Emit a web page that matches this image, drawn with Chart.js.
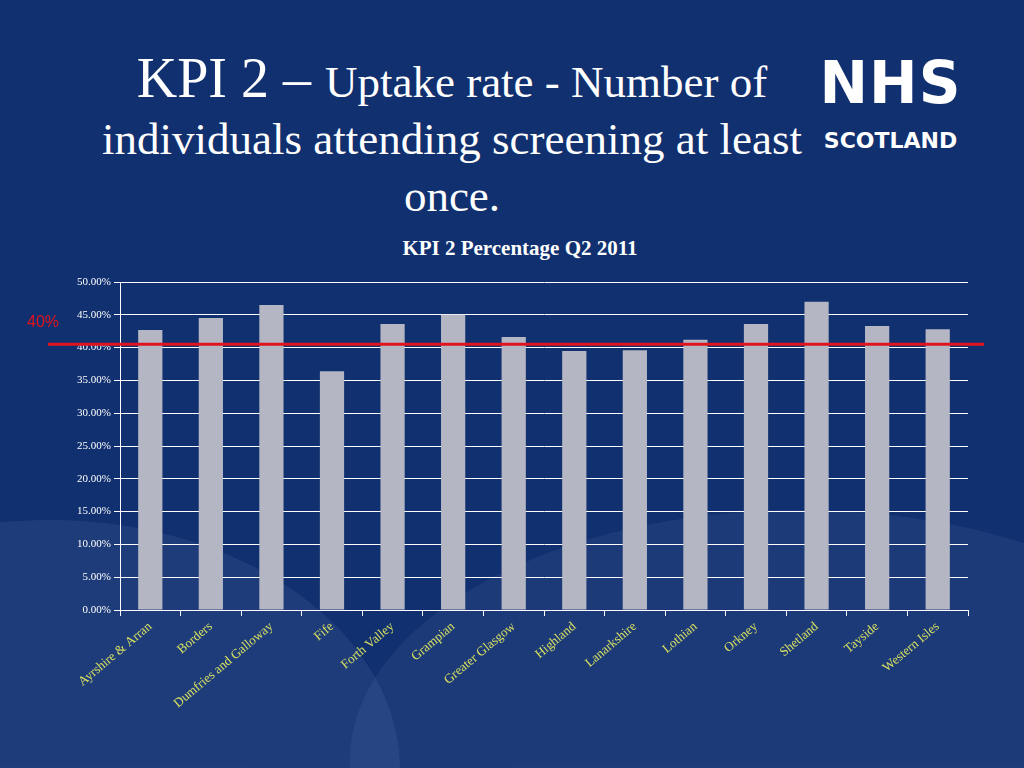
<!DOCTYPE html>
<html><head><meta charset="utf-8">
<script src="https://cdn.jsdelivr.net/npm/chart.js@4"></script>
<style>
body{margin:0;width:1024px;height:768px;overflow:hidden;position:relative;background:#11306f;font-family:"Liberation Serif",serif}
.wave{position:absolute;border-radius:50%;background:rgba(120,150,200,0.13)}
#t1{position:absolute;left:0;top:50px;width:904px;text-align:center;color:#fff;font-size:45px;line-height:57px}
#t1 .big{font-size:56px}
#ct{position:absolute;left:0;width:1040px;top:236px;text-align:center;color:#fff;font-weight:bold;font-size:21px}
#nhs{position:absolute;left:808px;top:52px;color:#fff;font-family:"DejaVu Sans",sans-serif;text-align:center;width:165px}
#nhs .a{font-size:58px;font-weight:bold;letter-spacing:1px;line-height:62px}
#nhs .b{font-size:22px;font-weight:bold;margin-top:14px}
canvas{position:absolute;left:0;top:270px}
</style></head><body>
<div class="wave" style="left:-300px;top:520px;width:700px;height:500px"></div>
<div class="wave" style="left:350px;top:510px;width:900px;height:500px;background:rgba(120,150,200,0.11)"></div>
<div id="t1"><span class="big">KPI 2 – </span>Uptake rate - Number of<br>individuals attending screening at least<br>once.</div>
<div id="nhs"><div class="a">NHS</div><div class="b">SCOTLAND</div></div>
<div id="ct">KPI 2 Percentage Q2 2011</div>
<canvas id="c" width="1024" height="498"></canvas>
<script>
var boards = ['Ayrshire & Arran','Borders','Dumfries and Galloway','Fife','Forth Valley','Grampian','Greater Glasgow','Highland','Lanarkshire','Lothian','Orkney','Shetland','Tayside','Western Isles'];
var uptake = [42.7,44.5,46.5,36.4,43.6,45.0,41.6,39.5,39.6,41.2,43.6,47.0,43.3,42.8];
var target = 40.5;

var targetLine = {
  id: 'targetLine',
  afterDatasetsDraw: function(chart) {
    var c = chart.ctx, y = chart.scales.y.getPixelForValue(target);
    c.save();
    c.strokeStyle = '#e0141e'; c.lineWidth = 3;
    c.beginPath(); c.moveTo(48, y); c.lineTo(984, y); c.stroke();
    c.fillStyle = '#e0141e'; c.font = '16px "Liberation Sans"';
    c.textBaseline = 'middle';
    c.fillText('40%', 27, y - 22);
    c.restore();
  }
};

new Chart(document.getElementById('c'), {
  type: 'bar',
  data: {
    labels: boards,
    datasets: [{ data: uptake, backgroundColor: '#b4b6c4', categoryPercentage: 0.8, barPercentage: 0.5 }]
  },
  options: {
    responsive: false, animation: false,
    layout: { padding: { top: 12, right: 56, left: 0, bottom: 0 } },
    plugins: { legend: { display: false }, tooltip: { enabled: false } },
    scales: {
      x: {
        afterFit: function(s) { s.height = 158; },
        grid: { display: true, drawOnChartArea: false, color: '#ffffff', tickLength: 6, offset: true },
        border: { color: '#ffffff' },
        ticks: { color: '#d8e060', minRotation: 40, maxRotation: 40, font: { family: 'Liberation Serif', size: 13 } }
      },
      y: {
        min: 0, max: 50,
        afterFit: function(s) { s.width = 120; },
        grid: { color: '#ffffff', tickLength: 6 },
        border: { color: '#ffffff' },
        ticks: { stepSize: 5, color: '#ffffff', font: { family: 'Liberation Serif', size: 11 },
          callback: function(v) { return v.toFixed(2) + '%'; } }
      }
    }
  },
  plugins: [targetLine]
});
</script>
</body></html>
